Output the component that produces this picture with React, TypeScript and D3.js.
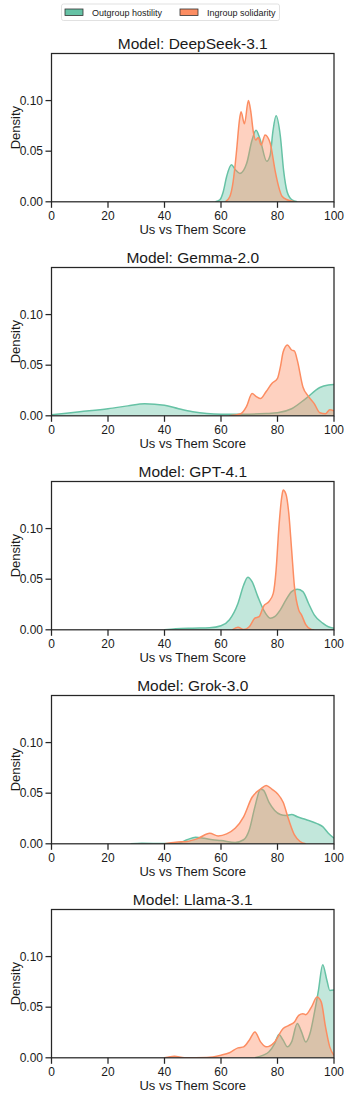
import React from 'react';
import * as d3 from 'd3';

const W = 349;
const H = 1098;
const margin = { left: 51.5, right: 15, top: 53.5 };
const panelH = 148.3;
const panelGap = 214;

const seriesNames = ['Outgroup hostility', 'Ingroup solidarity'];
const colors = ['#66c2a5', '#fc8d62'];
const xTicks = [0, 20, 40, 60, 80, 100];
const yTicks = [0, 0.05, 0.1];
const yMax = 0.1465;

type Pt = [number, number];

// density curves: [score, density]
const deepseekOut: Pt[] = [
  [58, 0], [59.6, 0.002], [60.8, 0.01], [62, 0.025], [63.7, 0.0365], [65, 0.032],
  [66.7, 0.028], [69.1, 0.038], [70.9, 0.06], [72.4, 0.0707], [73.8, 0.062],
  [76.2, 0.04], [77.4, 0.046], [78.4, 0.07], [79.5, 0.085], [81, 0.065],
  [82.2, 0.03], [83.4, 0.01], [85.1, 0.002], [87, 0],
];
const deepseekIn: Pt[] = [
  [61.5, 0], [63.1, 0.005], [64.3, 0.02], [65.5, 0.05], [66.5, 0.08], [67.1, 0.089],
  [68.3, 0.077], [69.7, 0.1], [70.5, 0.09], [71.5, 0.068], [72.3, 0.061],
  [73.2, 0.0635], [74.2, 0.056], [75.6, 0.066], [77.4, 0.058], [79.2, 0.03],
  [80.4, 0.015], [81.6, 0.0055], [83.4, 0.002], [86, 0],
];
const gemmaOut: Pt[] = [
  [0, 0.001], [10, 0.004], [20, 0.007], [27, 0.0098], [33, 0.012], [40, 0.0105],
  [45, 0.007], [50, 0.004], [55, 0.0022], [60, 0.0016], [70, 0.0016], [76, 0.0022],
  [80, 0.003], [85, 0.007], [90, 0.017], [95, 0.028], [98, 0.0305], [100, 0.031],
];
const gemmaIn: Pt[] = [
  [63, 0], [67, 0.002], [69, 0.009], [71, 0.022], [72.5, 0.019], [74, 0.017],
  [76, 0.024], [78, 0.032], [80, 0.037], [81, 0.048], [82, 0.063], [83.5, 0.07],
  [85, 0.065], [86, 0.064], [87, 0.055], [89, 0.0285], [91, 0.019], [93, 0.012],
  [95, 0.003], [97, 0.002], [98.5, 0.006], [100, 0.005],
];
const gptOut: Pt[] = [
  [40, 0], [44, 0.001], [50, 0.0016], [56, 0.002], [60, 0.004], [63, 0.01],
  [66, 0.026], [68, 0.044], [69.5, 0.052], [71, 0.0475], [73, 0.033], [75, 0.02],
  [77.5, 0.0115], [79, 0.013], [81, 0.0197], [83, 0.0295], [85, 0.0377],
  [87, 0.04], [89, 0.0377], [91, 0.026], [93, 0.0148], [96, 0.0066], [98, 0.003],
  [100, 0.0016],
];
const gptIn: Pt[] = [
  [64, 0], [66, 0.0026], [68, 0.0003], [70, 0.003], [72, 0.0115], [73.5, 0.013],
  [75, 0.023], [77, 0.028], [78.5, 0.036], [79.5, 0.059], [80.5, 0.1016],
  [81.5, 0.131], [82, 0.138], [83, 0.134], [84, 0.115], [85, 0.079], [86, 0.0426],
  [87.5, 0.0197], [88.5, 0.0148], [90, 0.005], [92, 0.0003], [93, 0],
];
const grokOut: Pt[] = [
  [28, 0], [32, 0.0006], [40, 0.0002], [45, 0.0007], [48, 0.004], [51, 0.0065],
  [54, 0.0055], [57, 0.004], [60, 0.0033], [65, 0.0013], [68, 0.004], [70, 0.0137],
  [72, 0.0365], [74, 0.054], [75, 0.053], [77, 0.041], [79, 0.033], [81, 0.029],
  [83, 0.028], [85, 0.029], [87, 0.0267], [90, 0.024], [94, 0.02], [96, 0.017],
  [98, 0.0104], [100, 0.0055],
];
const grokIn: Pt[] = [
  [40, 0], [44, 0.0016], [48, 0.0023], [52, 0.0055], [56, 0.0104], [59, 0.0078],
  [62, 0.0098], [65, 0.0153], [68, 0.0267], [71, 0.046], [74, 0.054], [76, 0.0577],
  [78, 0.054], [80, 0.0495], [82, 0.041], [84, 0.0235], [86, 0.0088], [88, 0.0023],
  [90, 0],
];
const llamaOut: Pt[] = [
  [72, 0], [75, 0.0026], [77, 0.006], [79, 0.014], [80.5, 0.023], [82, 0.0174],
  [83.5, 0.0108], [85, 0.0157], [87, 0.0338], [88.5, 0.0256], [90, 0.0157],
  [91.5, 0.024], [93, 0.0436], [94.5, 0.0666], [96, 0.0918], [97.5, 0.0764],
  [98.5, 0.0666], [100, 0.067],
];
const llamaIn: Pt[] = [
  [40, 0], [43.5, 0.0016], [47, 0], [55, 0.0003], [60, 0.0026], [63, 0.005],
  [66, 0.0098], [68, 0.0108], [70, 0.0174], [72, 0.0256], [74, 0.0157], [76, 0.0108],
  [79, 0.0157], [82, 0.0289], [84, 0.032], [86, 0.0354], [87.5, 0.042], [89, 0.0436],
  [90, 0.0426], [92, 0.05], [94, 0.06], [95.5, 0.055], [97, 0.0305], [98.5, 0.0108],
  [100, 0.0026],
];

const models = ['DeepSeek-3.1', 'Gemma-2.0', 'GPT-4.1', 'Grok-3.0', 'Llama-3.1'];
const curves: Pt[][][] = [
  [deepseekOut, deepseekIn],
  [gemmaOut, gemmaIn],
  [gptOut, gptIn],
  [grokOut, grokIn],
  [llamaOut, llamaIn],
];

const font = '"Liberation Sans", Arial, Helvetica, sans-serif';
const axisColor = '#262626';

const x = d3.scaleLinear().domain([0, 100]).range([margin.left, W - margin.right]);

const Panel = ({ i }: { i: number }) => {
  const top = margin.top + i * panelGap;
  const y = d3.scaleLinear().domain([0, yMax]).range([top + panelH, top]);
  const area = d3
    .area<Pt>()
    .x((d) => x(d[0]))
    .y0(y(0))
    .y1((d) => y(d[1]))
    .curve(d3.curveMonotoneX);
  const line = d3
    .line<Pt>()
    .x((d) => x(d[0]))
    .y((d) => y(d[1]))
    .curve(d3.curveMonotoneX);
  const [x0, x1] = x.range();
  const clipId = `clip-${i}`;
  return (
    <g>
      <clipPath id={clipId}>
        <rect x={x0} y={top} width={x1 - x0} height={panelH} />
      </clipPath>
      <text
        x={(x0 + x1) / 2}
        y={top - 4.5}
        textAnchor="middle"
        fontSize={15.5}
        fill="#1a1a1a"
      >
        Model: {models[i]}
      </text>
      <g clipPath={`url(#${clipId})`}>
        {curves[i].map((pts, k) => (
          <g key={k}>
            <path d={area(pts) ?? ''} fill={colors[k]} fillOpacity={0.4} />
            <path d={line(pts) ?? ''} fill="none" stroke={colors[k]} strokeWidth={1.5} />
          </g>
        ))}
      </g>
      <rect
        x={x0}
        y={top}
        width={x1 - x0}
        height={panelH}
        fill="none"
        stroke={axisColor}
        strokeWidth={1.25}
      />
      {xTicks.map((t) => (
        <g key={t} transform={`translate(${x(t)},${top + panelH})`}>
          <line y2={6} stroke={axisColor} strokeWidth={1.25} />
          <text y={18.5} textAnchor="middle" fontSize={12} fill="#1a1a1a">
            {t}
          </text>
        </g>
      ))}
      {yTicks.map((t) => (
        <g key={t} transform={`translate(${x0},${y(t)})`}>
          <line x2={-6} stroke={axisColor} strokeWidth={1.25} />
          <text x={-8.5} dy="0.35em" textAnchor="end" fontSize={12} fill="#1a1a1a">
            {t.toFixed(2)}
          </text>
        </g>
      ))}
      <text
        x={(x0 + x1) / 2}
        y={top + panelH + 32}
        textAnchor="middle"
        fontSize={13}
        fill="#1a1a1a"
      >
        Us vs Them Score
      </text>
      <text
        transform={`translate(${15.5},${top + panelH / 2}) rotate(-90)`}
        textAnchor="middle"
        dy="0.35em"
        fontSize={13}
        fill="#1a1a1a"
      >
        Density
      </text>
    </g>
  );
};

const Legend = () => {
  const itemX = [65, 180];
  return (
    <g>
      <rect
        x={61.5}
        y={4}
        width={218}
        height={16.5}
        rx={2}
        fill="#fff"
        stroke="#d9d9d9"
        strokeWidth={0.8}
      />
      {seriesNames.map((name, k) => (
        <g key={name}>
          <rect
            x={itemX[k]}
            y={9}
            width={18}
            height={6.5}
            fill={colors[k]}
            stroke="#333"
            strokeWidth={0.8}
          />
          <text x={itemX[k] + 27} y={15.5} fontSize={9} fill="#1a1a1a">
            {name}
          </text>
        </g>
      ))}
    </g>
  );
};

export default function App() {
  return (
    <svg
      width={W}
      height={H}
      style={{ position: 'absolute', left: 0, top: 0, background: '#fff' }}
      fontFamily={font}
    >
      <rect width={W} height={H} fill="#fff" />
      <Legend />
      {models.map((m, i) => (
        <Panel key={m} i={i} />
      ))}
    </svg>
  );
}
